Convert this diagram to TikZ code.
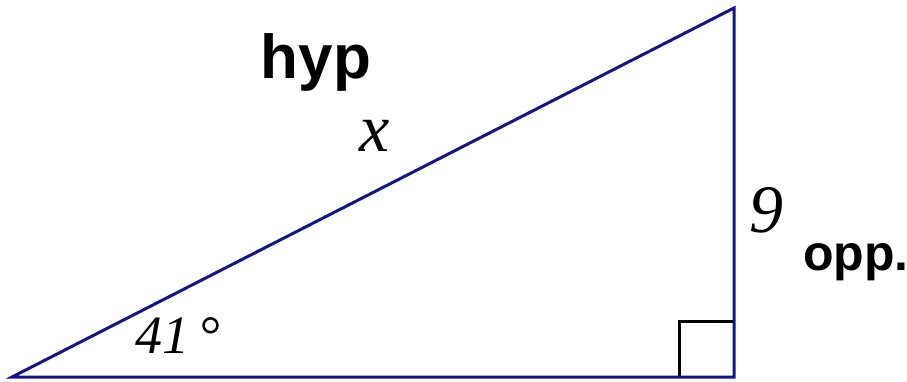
\documentclass[tikz,border=0pt]{standalone}
\usepackage{fontspec}
\setmainfont{Liberation Serif}
\newfontfamily\handfont{Liberation Sans}
\usepackage{tikz}
\usetikzlibrary{positioning}
\definecolor{TriBlue}{RGB}{20,20,140}

\begin{document}
\begin{tikzpicture}[x=1pt, y=-1pt,
		side/.style={line width=3pt, TriBlue, line join=miter},
		lab/.style={font=\fontsize{68}{68}\selectfont\itshape, inner sep=0pt},
		note/.style={font=\fontsize{62}{62}\selectfont\handfont\bfseries, inner sep=0pt}]
	\useasboundingbox (0,0) rectangle (907,381);
	\coordinate (A) at (12,377);
	\coordinate (B) at (734,377);
	\coordinate (C) at (734,8);
	% right angle mark
	\draw[line width=3pt, black] (679,377) -- (679,321) -- (734,321);
	\draw[side] (A) -- (B) -- (C) -- cycle;
	\node[lab] (hypx) at (375,136) {x};
	\node[lab] (opp9) at (766,210) {9};
	\node[lab, font=\fontsize{54}{54}\selectfont\itshape] (ang) at (178,336) {41\,°};
	\node[note] (hyp) at (316,62) {hyp};
	\node[note, font=\fontsize{50}{50}\selectfont\handfont\bfseries] (opp) at (856,262) {opp.};
\end{tikzpicture}
\end{document}
